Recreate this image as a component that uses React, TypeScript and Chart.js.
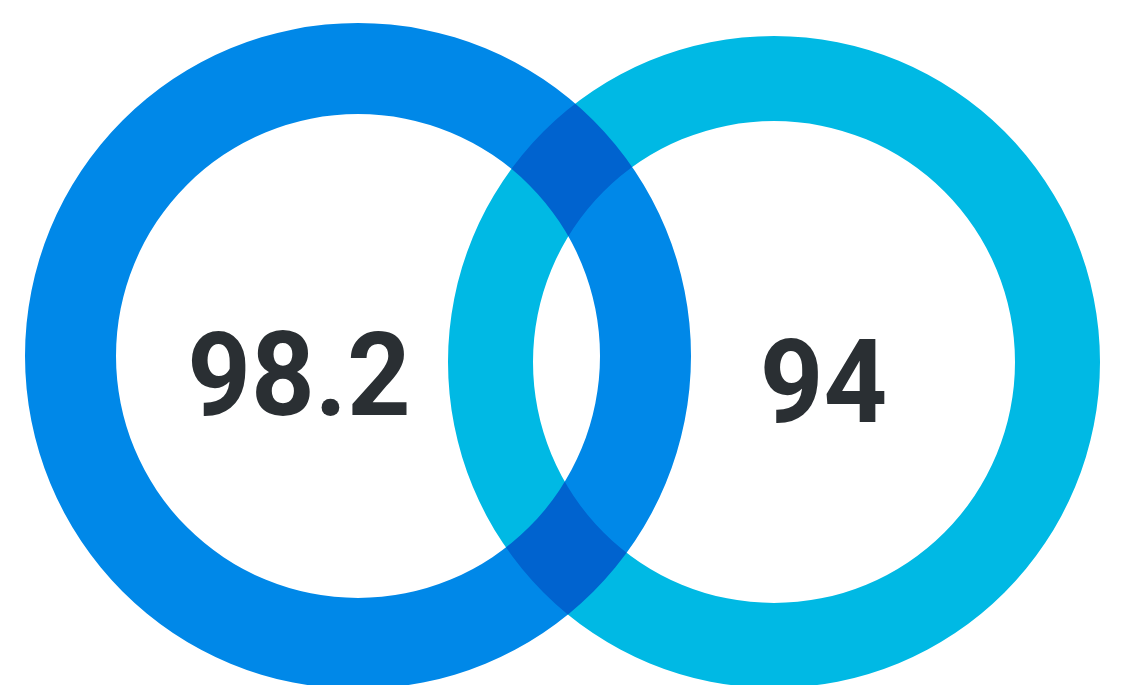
import React, { useEffect, useRef } from "react";
import { Chart, registerables } from "chart.js";

Chart.register(...registerables);

const labels = ["98.2", "94"];
const values = [98.2, 94];
const colors = ["#0088e8", "#00b9e4"];
const textColor = "#2a2f33";

type RingProps = {
  idx: number;
  box: { left: number; top: number; size: number };
  cutout: number;
  text: { x: number; y: number };
  blend?: boolean;
};

function Ring({ idx, box, cutout, text, blend }: RingProps) {
  const ref = useRef<HTMLCanvasElement | null>(null);
  useEffect(() => {
    if (!ref.current) return;
    const labelPlugin = {
      id: "centerLabel" + idx,
      afterDraw(chart: any) {
        const ctx = chart.ctx;
        ctx.save();
        ctx.fillStyle = textColor;
        ctx.font = "bold 117px Roboto";
        ctx.textAlign = "center";
        ctx.textBaseline = "alphabetic";
        ctx.translate(text.x, text.y);
        ctx.scale(0.95, 1);
        ctx.fillText(labels[idx], 0, 0);
        ctx.restore();
      },
    };
    const chart = new Chart(ref.current, {
      type: "doughnut",
      data: {
        labels: [labels[idx]],
        datasets: [
          {
            data: [values[idx]],
            backgroundColor: [colors[idx]],
            borderWidth: 0,
            hoverOffset: 0,
            offset: 0,
          } as any,
        ],
      },
      options: {
        animation: false,
        responsive: true,
        maintainAspectRatio: false,
        radius: box.size / 2,
        cutout: cutout,
        layout: { padding: 0 },
        events: [],
        plugins: {
          legend: { display: false },
          tooltip: { enabled: false },
        },
      } as any,
      plugins: [labelPlugin],
    });
    return () => chart.destroy();
  }, []);
  return (
    <div
      style={{
        position: "absolute",
        left: box.left,
        top: box.top,
        width: box.size,
        height: box.size,
        mixBlendMode: blend ? "multiply" : "normal",
      }}
    >
      <canvas ref={ref} />
    </div>
  );
}

export default function App() {
  return (
    <div
      style={{
        position: "absolute",
        left: 0,
        top: 0,
        width: 1124,
        height: 685,
        overflow: "hidden",
        background: "#ffffff",
        isolation: "isolate",
      }}
    >
      <Ring idx={0} box={{ left: 25, top: 23, size: 666 }} cutout={242} text={{ x: 299 - 25, y: 415 - 23 }} />
      <Ring idx={1} box={{ left: 448, top: 36, size: 652 }} cutout={241} text={{ x: 823.5 - 448, y: 421.5 - 36 }} blend />
    </div>
  );
}
